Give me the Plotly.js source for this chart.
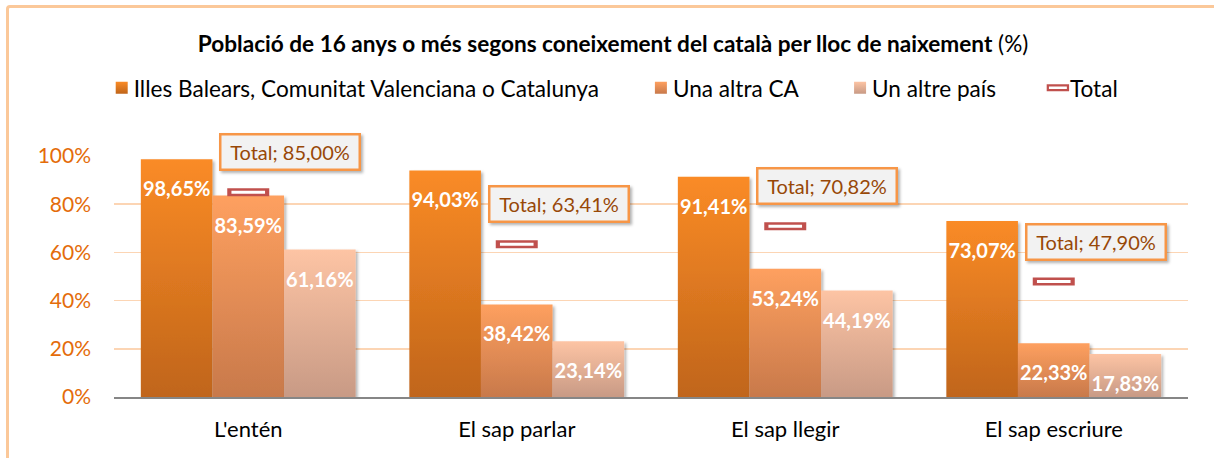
<!DOCTYPE html>
<html>
<head>
<meta charset="utf-8">
<script src="https://cdn.plot.ly/plotly-3.0.1.min.js"></script>
<style>
html,body{margin:0;padding:0;background:#fff;overflow:hidden;}
#wrap{position:relative;width:1214px;height:458px;overflow:hidden;}
#frame{position:absolute;left:6px;top:5px;width:1300px;height:600px;border:3px solid #fbc899;border-radius:4px;box-sizing:border-box;pointer-events:none;}
#chart{position:absolute;left:0;top:0;width:1214px;height:458px;}
</style>
</head>
<body>
<div id="wrap">
<div id="chart"></div>
<div id="frame"></div>
</div>
<script>
// ---- data ----
const categories = ["L'entén", "El sap parlar", "El sap llegir", "El sap escriure"];
const seriesNames = ["Illes Balears, Comunitat Valenciana o Catalunya", "Una altra CA", "Un altre país"];
const illesBalearsCVCat = [98.65, 94.03, 91.41, 73.07];
const altraCA = [83.59, 38.42, 53.24, 22.33];
const altrePais = [61.16, 23.14, 44.19, 17.83];
const totalValues = [85.00, 63.41, 70.82, 47.90];
const yTicks = [0, 20, 40, 60, 80, 100];
const yTickLabels = ["0%", "20%", "40%", "60%", "80%", "100%"];

const FONT = "Lato, 'Open Sans', sans-serif";
const PAD = '\u00a0\u00a0\u00a0\u00a0\u00a0';
const seriesValues = [illesBalearsCVCat, altraCA, altrePais];
const flatColors = ["#e67a20", "#f09055", "#e8b195"];

const barTraces = seriesValues.map((vals, i) => ({
  type: 'bar',
  name: seriesNames[i] + PAD,
  x: categories,
  y: vals,
  marker: {color: flatColors[i], line: {width: 0}},
  texttemplate: '%{y:.2f}%',
  textposition: 'inside',
  insidetextanchor: 'end',
  textangle: 0,
  textfont: {family: FONT, size: 20, color: '#ffffff', weight: 'bold'},
  constraintext: 'none',
  hoverinfo: 'skip'
}));

const totalOuter = {
  type: 'scatter', mode: 'markers', name: 'Total',
  x: categories, y: totalValues,
  marker: {symbol: 'line-ew-open', size: 30, color: '#c0504d', line: {width: 8, color: '#c0504d'}},
  hoverinfo: 'skip', cliponaxis: false
};
const totalInner = {
  type: 'scatter', mode: 'markers', name: 'Total', showlegend: false,
  x: categories, y: totalValues,
  marker: {symbol: 'line-ew-open', size: 24, color: '#ffffff', line: {width: 3, color: '#ffffff'}},
  hoverinfo: 'skip', cliponaxis: false
};

const annotations = categories.map((c, i) => ({
  x: c, y: totalValues[i], xref: 'x', yref: 'y',
  text: 'Total; ' + totalValues[i].toFixed(2).replace('.', ',') + '%',
  showarrow: false,
  xshift: 42, yshift: 40,
  font: {family: FONT, size: 20, color: '#984807'},
  bgcolor: '#f2f2f2', bordercolor: '#f79646', borderwidth: 2.5, borderpad: 4,
  width: 129, height: 25
}));

const layout = {
  width: 1214, height: 458,
  margin: {l: 114, r: 26, t: 156, b: 61},
  paper_bgcolor: 'rgba(0,0,0,0)', plot_bgcolor: 'rgba(0,0,0,0)',
  separators: ',.',
  barmode: 'group', bargap: 0.2, bargroupgap: 0,
  font: {family: FONT, color: '#000'},
  title: {
    text: '<b>Població de 16 anys o més segons coneixement del català per lloc de naixement</b> (%)',
    x: 0.505, xref: 'container', xanchor: 'center',
    y: 1 - 44 / 458, yref: 'container', yanchor: 'middle',
    font: {family: FONT, size: 22.6, color: '#000'}
  },
  legend: {
    orientation: 'h', x: 0.508, xref: 'container', xanchor: 'center',
    y: 1 - 88 / 458, yref: 'container', yanchor: 'middle',
    font: {family: FONT, size: 22.6, color: '#000'},
    traceorder: 'normal', itemwidth: 30, tracegroupgap: 0
  },
  xaxis: {
    type: 'category', showgrid: false, showline: true, linecolor: '#868686', linewidth: 1.5,
    ticks: '', tickfont: {family: FONT, size: 22, color: '#000'}, ticklabelstandoff: 12,
    fixedrange: true
  },
  yaxis: {
    range: [0, 100], tickvals: yTicks, ticktext: yTickLabels,
    showgrid: true, gridcolor: '#fcd5b4', gridwidth: 1.5, zeroline: false, showline: false,
    ticks: '', tickfont: {family: FONT, size: 21, color: '#e46c0a'}, ticklabelstandoff: 22,
    fixedrange: true
  },
  annotations: annotations,
  showlegend: true
};

const gd = document.getElementById('chart');
Plotly.newPlot(gd, [...barTraces, totalOuter, totalInner], layout, {displayModeBar: false, staticPlot: true}).then(() => {
  const svg = gd.querySelector('.main-svg');
  const NS = 'http://www.w3.org/2000/svg';
  let defs = svg.querySelector('defs');
  if (!defs) { defs = document.createElementNS(NS, 'defs'); svg.insertBefore(defs, svg.firstChild); }
  const grads = [["#fa8b26", "#c0651a"], ["#fea05f", "#c8794b"], ["#fdc4a4", "#c89a85"]];
  grads.forEach((g, i) => {
    const lg = document.createElementNS(NS, 'linearGradient');
    lg.setAttribute('id', 'bargrad' + i);
    lg.setAttribute('x1', '0'); lg.setAttribute('y1', '0');
    lg.setAttribute('x2', '0'); lg.setAttribute('y2', '1');
    [[0, g[0]], [1, g[1]]].forEach(([o, c]) => {
      const st = document.createElementNS(NS, 'stop');
      st.setAttribute('offset', o); st.setAttribute('stop-color', c);
      lg.appendChild(st);
    });
    defs.appendChild(lg);
  });
  const f = document.createElementNS(NS, 'filter');
  f.setAttribute('id', 'shadow'); f.setAttribute('x', '-10%'); f.setAttribute('y', '-10%');
  f.setAttribute('width', '130%'); f.setAttribute('height', '130%');
  const ds = document.createElementNS(NS, 'feDropShadow');
  ds.setAttribute('dx', '2'); ds.setAttribute('dy', '2'); ds.setAttribute('stdDeviation', '1.5');
  ds.setAttribute('flood-color', '#000'); ds.setAttribute('flood-opacity', '0.3');
  f.appendChild(ds); defs.appendChild(f);

  const traces = gd.querySelectorAll('.barlayer .trace');
  traces.forEach((t, i) => {
    t.querySelectorAll('.point path').forEach(p => {
      p.style.fill = 'url(#bargrad' + i + ')';
      p.setAttribute('filter', 'url(#shadow)');
    });
    t.querySelectorAll('.point text').forEach(tx => {
      const tr = tx.getAttribute('transform') || '';
      tx.setAttribute('transform', 'translate(0,14) ' + tr);
    });
  });
  const legTraces = gd.querySelectorAll('.legend .traces');
  legTraces.forEach((t, i) => {
    if (i < 3) {
      t.querySelectorAll('.legendpoints path').forEach(p => {
        p.style.fill = 'url(#bargrad' + i + ')';
      });
    } else {
      t.querySelectorAll('.legendpoints path').forEach(p => {
        const tr = p.getAttribute('transform') || '';
        p.style.strokeWidth = '7px';
        const c = p.cloneNode(true);
        c.style.stroke = '#ffffff';
        c.style.strokeWidth = '2.5px';
        c.setAttribute('transform', tr + ' scale(0.8,1)');
        p.parentNode.appendChild(c);
      });
    }
    t.querySelectorAll('text.legendtext').forEach(tx => {
      tx.setAttribute('x', String(parseFloat(tx.getAttribute('x') || 40) - 8));
    });
  });
  gd.querySelectorAll('.annotation-text-g rect.bg').forEach(r => r.setAttribute('filter', 'url(#shadow)'));
});
</script>
</body>
</html>
